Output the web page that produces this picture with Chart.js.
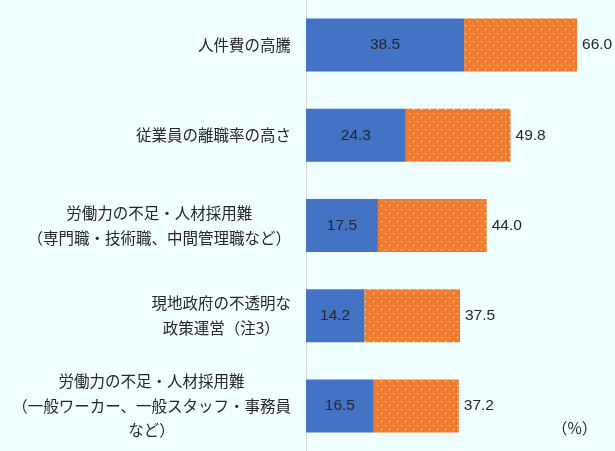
<!DOCTYPE html>
<html>
<head>
<meta charset="utf-8">
<script src="https://cdn.jsdelivr.net/npm/chart.js@4/dist/chart.umd.min.js"></script>
<style>
  html, body { margin: 0; padding: 0; background: #F0FFFF; }
  #wrap { width: 615px; height: 451px; position: relative; }
</style>
</head>
<body>
<div id="wrap"><canvas id="c"></canvas></div>
<script>
const categories = [
  ["人件費の高騰"],
  ["従業員の離職率の高さ"],
  ["労働力の不足・人材採用難", "（専門職・技術職、中間管理職など）"],
  ["現地政府の不透明な", "政策運営（注3）"],
  ["労働力の不足・人材採用難", "（一般ワーカー、一般スタッフ・事務員", "など）"]
];
const seriesA = [38.5, 24.3, 17.5, 14.2, 16.5];
const seriesB = [27.5, 25.5, 26.5, 23.3, 20.7];
const totals = [66.0, 49.8, 44.0, 37.5, 37.2];
const unitLabel = "（%）";

const FONT = '"Noto Sans CJK JP", "Noto Sans", sans-serif';
const NUMFONT = '"Liberation Sans", Arial, sans-serif';

function dotPattern() {
  const p = document.createElement('canvas');
  p.width = 8; p.height = 8;
  const g = p.getContext('2d');
  g.fillStyle = '#ED7D31';
  g.fillRect(0, 0, 8, 8);
  g.fillStyle = '#FFFFFF';
  g.fillRect(1, 1, 1, 1);
  g.fillRect(5, 5, 1, 1);
  return g.createPattern(p, 'repeat');
}

const bgPlugin = {
  id: 'bg',
  beforeDraw(chart) {
    const ctx = chart.ctx;
    ctx.save();
    ctx.fillStyle = '#F0FFFF';
    ctx.fillRect(0, 0, chart.width, chart.height);
    ctx.restore();
  }
};

const labelPlugin = {
  id: 'labels',
  afterDatasetsDraw(chart) {
    const ctx = chart.ctx;
    const y = chart.scales.y;
    const x = chart.scales.x;
    ctx.save();
    ctx.font = '15.5px ' + FONT;
    ctx.fillStyle = '#262626';
    ctx.textBaseline = 'middle';
    ctx.textAlign = 'center';
    const rightEdge = 291;
    const lh = 24.5;
    categories.forEach((lines, i) => {
      const cy = y.getPixelForValue(i);
      let w = 0;
      lines.forEach(l => { w = Math.max(w, ctx.measureText(l).width); });
      const cx = rightEdge - w / 2;
      const y0 = cy - (lines.length - 1) * lh / 2;
      lines.forEach((l, k) => ctx.fillText(l, cx, y0 + k * lh));
    });
    ctx.font = '15.5px ' + NUMFONT;
    const meta0 = chart.getDatasetMeta(0);
    meta0.data.forEach((bar, i) => {
      const x0 = x.getPixelForValue(0);
      const x1 = x.getPixelForValue(seriesA[i]);
      ctx.textAlign = 'center';
      ctx.fillText(seriesA[i].toFixed(1), (x0 + x1) / 2, bar.y);
      ctx.textAlign = 'left';
      ctx.fillText(totals[i].toFixed(1), x.getPixelForValue(totals[i]) + 5, bar.y);
    });
    ctx.font = '15.5px ' + FONT;
    ctx.textAlign = 'left';
    ctx.fillText(unitLabel, 552, 428);
    ctx.restore();
  }
};

new Chart(document.getElementById('c'), {
  type: 'bar',
  data: {
    labels: categories,
    datasets: [
      { data: seriesA, backgroundColor: '#4472C4', borderWidth: 0, barPercentage: 0.588, categoryPercentage: 1 },
      { data: seriesB, backgroundColor: dotPattern(), borderWidth: 0, barPercentage: 0.588, categoryPercentage: 1 }
    ]
  },
  options: {
    indexAxis: 'y',
    responsive: true,
    maintainAspectRatio: false,
    animation: false,
    layout: { padding: { left: 0, right: 1, top: 0, bottom: 0 } },
    plugins: { legend: { display: false }, tooltip: { enabled: false } },
    scales: {
      x: {
        stacked: true, min: 0, max: 75, display: false
      },
      y: {
        stacked: true,
        grid: { display: false },
        border: { display: true, color: '#D9D9D9', width: 1 },
        ticks: { display: false },
        afterFit(scale) { scale.width = 306; }
      }
    }
  },
  plugins: [bgPlugin, labelPlugin]
});
</script>
</body>
</html>
